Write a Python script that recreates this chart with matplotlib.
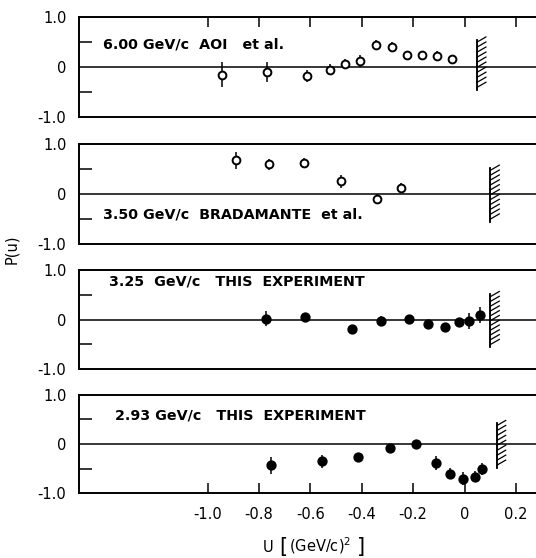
import matplotlib
matplotlib.use("Agg")
import matplotlib.pyplot as plt
import matplotlib.patheffects as pe
import matplotlib.transforms as mtransforms

plt.rcParams['font.family'] = ['DejaVu Sans']
plt.rcParams['axes.unicode_minus'] = False
plt.rcParams['mathtext.fontset'] = 'dejavusans'

# ---- data ----
u_600 = [-0.945, -0.767, -0.612, -0.522, -0.465, -0.405, -0.345, -0.283, -0.225, -0.165, -0.106, -0.048]
P_600 = [-0.15, -0.10, -0.17, -0.05, 0.07, 0.13, 0.45, 0.41, 0.25, 0.25, 0.23, 0.16]
e_600 = [0.25, 0.20, 0.12, 0.11, 0.10, 0.12, 0.10, 0.09, 0.08, 0.08, 0.09, 0.06]

u_350 = [-0.89, -0.761, -0.623, -0.48, -0.34, -0.247]
P_350 = [0.68, 0.60, 0.63, 0.26, -0.09, 0.13]
e_350 = [0.17, 0.11, 0.09, 0.13, 0.10, 0.10]

u_325 = [-0.774, -0.619, -0.437, -0.327, -0.217, -0.143, -0.075, -0.023, 0.016, 0.061]
P_325 = [0.02, 0.06, -0.18, -0.03, 0.02, -0.09, -0.14, -0.05, -0.03, 0.09]
e_325 = [0.15, 0.05, 0.08, 0.10, 0.06, 0.06, 0.07, 0.06, 0.16, 0.16]

u_293 = [-0.753, -0.555, -0.413, -0.29, -0.19, -0.112, -0.055, -0.005, 0.04, 0.069]
P_293 = [-0.43, -0.35, -0.26, -0.08, 0.0, -0.39, -0.60, -0.70, -0.66, -0.51]
e_293 = [0.17, 0.13, 0.06, 0.05, 0.05, 0.14, 0.12, 0.13, 0.12, 0.12]

labels = ["6.00 GeV/c  AOI   et al.",
          "3.50 GeV/c  BRADAMANTE  et al.",
          "3.25  GeV/c   THIS  EXPERIMENT",
          "2.93 GeV/c   THIS  EXPERIMENT"]

# kinematic limit (hatched boundary) per panel
u_limit = [0.048, 0.10, 0.10, 0.125]
limit_top = [0.55, 0.52, 0.51, 0.42]
limit_bot = [-0.45, -0.55, -0.55, -0.48]

xticks = [-1.0, -0.8, -0.6, -0.4, -0.2, 0.0, 0.2]
xticklabels = ["-1.0", "-0.8", "-0.6", "-0.4", "-0.2", "0", "0.2"]
yticklabels = ["-1.0", "0", "1.0"]

series = [(u_600, P_600, e_600, False),
          (u_350, P_350, e_350, False),
          (u_325, P_325, e_325, True),
          (u_293, P_293, e_293, True)]

# ---- layout ----
W, H = 536, 558
fig = plt.figure(figsize=(W / 100, H / 100), dpi=100)

panel_px = [(17.3, 117.3), (144, 244), (270, 369.3), (394.7, 493.3)]
text_pos = [(0.052, 0.46), (0.052, -0.42), (0.065, 0.76), (0.078, 0.57)]
left_px = 79

for i, ((top, bot), (u, P, e, filled)) in enumerate(zip(panel_px, series)):
    ax = fig.add_axes([left_px / W, 1 - bot / H, 1 - left_px / W + 0.002, (bot - top) / H])
    ax.set_xlim(-1.5, 0.282)
    ax.set_ylim(-1.0, 1.0)
    for s in ['top', 'bottom', 'left']:
        ax.spines[s].set_linewidth(1.4)
    ax.spines['right'].set_visible(False)

    ax.axhline(0, color='black', lw=1.1, zorder=1)

    ax.errorbar(u, P, yerr=e, fmt='o', color='black', ecolor='black',
                elinewidth=1.1, capsize=0, ms=6.0 if filled else 5.6,
                mfc='black' if filled else 'white', mec='black', mew=1.4, zorder=3)

    # hatched kinematic boundary
    ax.plot([u_limit[i], u_limit[i]], [limit_top[i], limit_bot[i]], color='black', lw=1.1,
            path_effects=[pe.Stroke(linewidth=1.1, foreground='black'),
                          pe.withTickedStroke(angle=120, spacing=3.4, length=2.2, linewidth=0.9)])

    ax.text(text_pos[i][0], text_pos[i][1], labels[i],
            transform=mtransforms.blended_transform_factory(ax.transAxes, ax.transData),
            fontsize=10.3, fontweight='bold', va='center', ha='left', color='black')

    # y ticks
    ax.set_yticks([-1.0, 0.0, 1.0])
    ax.set_yticklabels(yticklabels, fontsize=10.5)
    ax.set_yticks([-0.5, 0.5], minor=True)
    ax.tick_params(axis='y', which='major', length=0, pad=9)
    ax.tick_params(axis='y', which='minor', direction='in', length=9, width=1.1)

    # x ticks
    ax.set_xticks(xticks)
    if i == 0:
        ax.tick_params(axis='x', which='major', top=True, bottom=False, labeltop=False,
                       labelbottom=False, direction='in', length=7, width=1.1)
    elif i == 3:
        ax.set_xticklabels(xticklabels, fontsize=10.5)
        ax.tick_params(axis='x', which='major', top=False, bottom=True, direction='in',
                       length=7, width=1.1, pad=10)
    else:
        ax.tick_params(axis='x', which='major', top=False, bottom=False,
                       labelbottom=False)

fig.text(12 / W, 1 - 249 / H, "P(u)", rotation=90, fontsize=10.5, ha='center', va='center')

# x-axis label built from pieces so that the brackets are tall
yb = 1 - 552 / H
fig.text(268 / W, yb, "U", fontsize=10.5, ha='center', va='baseline')
fig.text(283 / W, yb - 1.5 / H, "[", fontsize=15, ha='center', va='baseline')
fig.text(289 / W, yb, r"(GeV/c)$^{2}$", fontsize=10.5, ha='left', va='baseline')
fig.text(361 / W, yb - 1.5 / H, "]", fontsize=15, ha='center', va='baseline')

fig.savefig("out.png", dpi=100)
